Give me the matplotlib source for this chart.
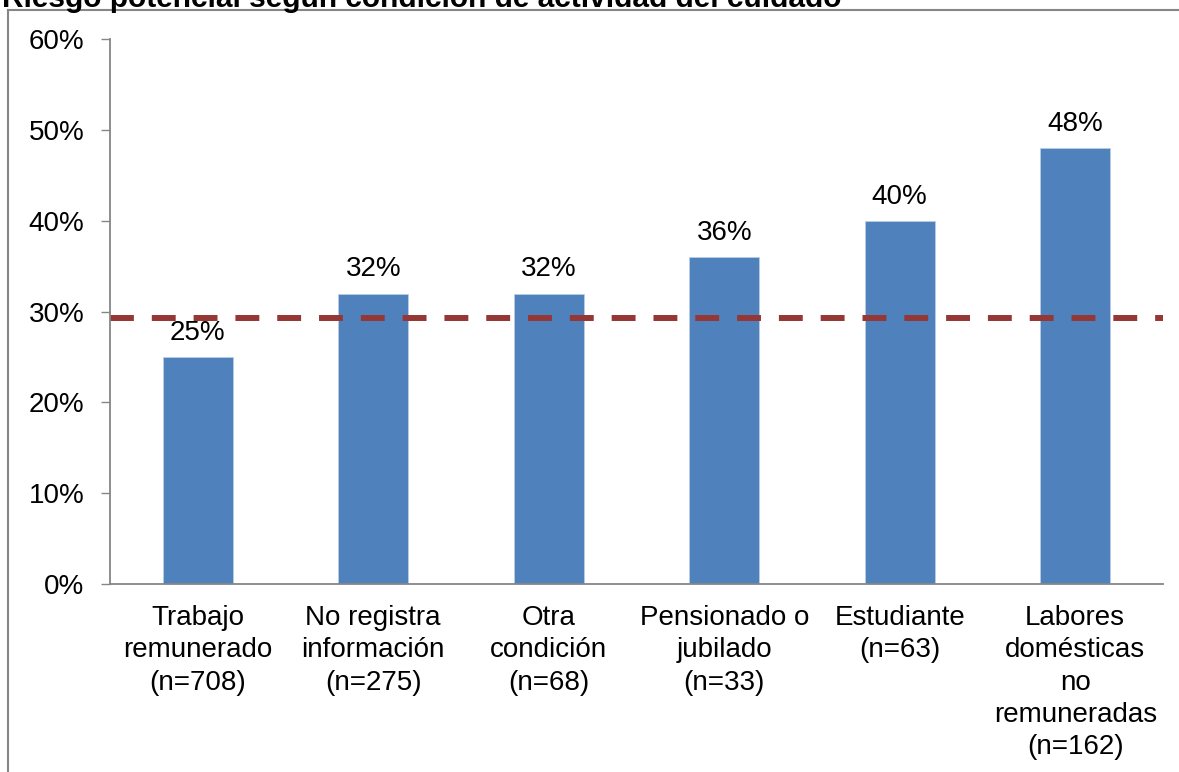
import matplotlib.pyplot as plt
from matplotlib.lines import Line2D
from matplotlib.ticker import FuncFormatter

plt.rcParams["font.family"] = ["Liberation Sans", "DejaVu Sans"]

categories = [
    "Trabajo\nremunerado\n(n=708)",
    "No registra\ninformación\n(n=275)",
    "Otra\ncondición\n(n=68)",
    "Pensionado o\njubilado\n(n=33)",
    "Estudiante\n(n=63)",
    "Labores\ndomésticas\nno\nremuneradas\n(n=162)",
]
values = [25, 32, 32, 36, 40, 48]
average = 29.3
title = "Riesgo potencial según condición de actividad del cuidado"

fig = plt.figure(figsize=(11.79, 7.72), dpi=100)
ax = fig.add_axes([0.0933, 0.2435, 0.8931, 0.7055])

x = range(len(categories))
ax.bar(x, values, width=0.4, color="#4F81BD", edgecolor="#B9CDE5", linewidth=0.6)
for xi, v in zip(x, values):
    ax.annotate(f"{v}%", (xi, v), xytext=(0, 8), textcoords="offset points",
                ha="center", va="bottom", fontsize=20)

ax.axhline(average, color="#953735", linewidth=4.3, linestyle=(0, (4, 3)))

ax.set_xlim(-0.5, len(categories) - 0.5)
ax.set_ylim(0, 60)
ax.set_yticks(range(0, 61, 10))
ax.yaxis.set_major_formatter(FuncFormatter(lambda v, p: f"{v:.0f}%"))
ax.set_xticks(list(x))
ax.set_xticklabels(categories, fontsize=20, linespacing=1.32)
ax.tick_params(axis="y", labelsize=20, length=6.5, width=1, color="#868686", pad=12)
ax.tick_params(axis="x", length=0, pad=15)

for side in ("top", "right"):
    ax.spines[side].set_visible(False)
for side in ("left", "bottom"):
    ax.spines[side].set_color("#868686")
    ax.spines[side].set_linewidth(1.3)

# outer chart frame (top and left visible)
fig.add_artist(Line2D([8 / 1179, 1.0], [1 - 10 / 772] * 2, color="#868686", lw=1.5))
fig.add_artist(Line2D([8 / 1179] * 2, [0.0, 1 - 10 / 772], color="#868686", lw=1.5))

# title, cropped at the top edge as in the original
fig.text(0.002, 1 - 7 / 772, title, fontsize=21.5, fontweight="bold", va="baseline", ha="left")

fig.savefig("out.png", dpi=100)
